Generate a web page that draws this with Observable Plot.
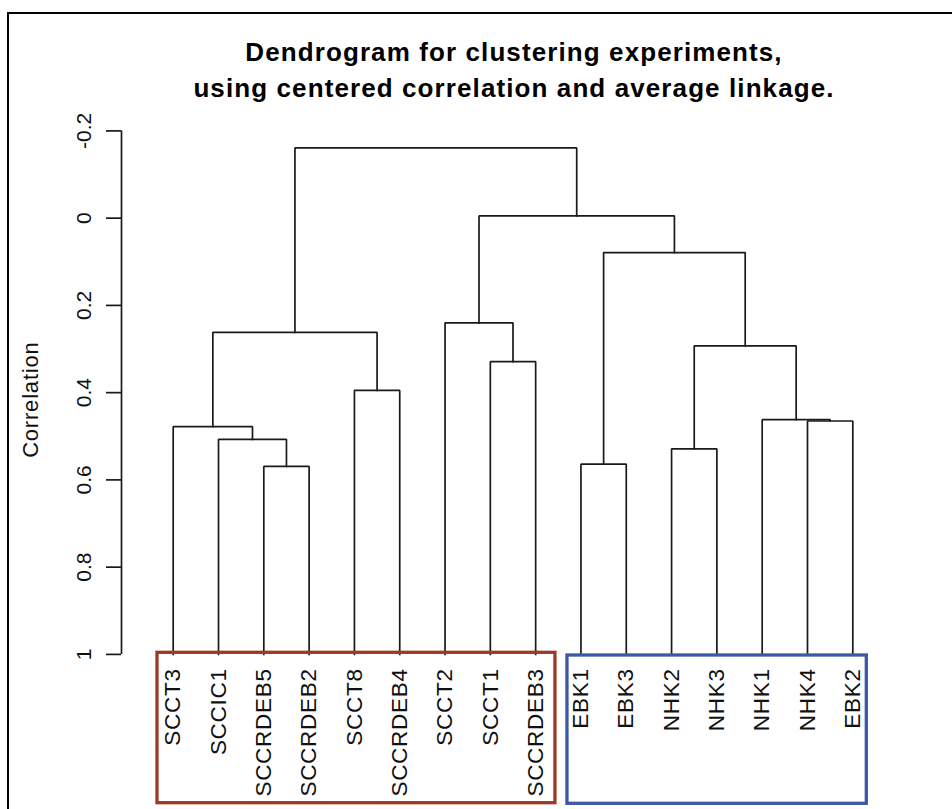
<!DOCTYPE html>
<html><head><meta charset="utf-8">
<script src="https://cdn.jsdelivr.net/npm/d3@7"></script>
<script src="https://cdn.jsdelivr.net/npm/@observablehq/plot@0.6"></script>
<style>
html,body{margin:0;padding:0;background:#fff;}
body{width:952px;height:809px;overflow:hidden;position:relative;font-family:"Liberation Sans",Arial,Helvetica,sans-serif;}
#border{position:absolute;left:7px;top:12px;right:-5px;bottom:-5px;border-left:2px solid #000;border-top:2px solid #000;}
#title{position:absolute;left:76px;top:34px;width:876px;text-align:center;font-weight:bold;font-size:26px;line-height:36px;letter-spacing:1.1px;color:#000;}
#chart{position:absolute;left:0;top:115px;}
#chart g[aria-label="x-axis tick label"] text{letter-spacing:0.7px;}
#chart g[aria-label="text"] text{letter-spacing:0.8px;}
</style></head><body>
<div id="border"></div>
<div id="title">Dendrogram for clustering experiments,<br>using centered correlation and average linkage.</div>
<div id="chart"></div>
<script>
// Leaf order (left to right)
const leaves = ["SCCT3","SCCIC1","SCCRDEB5","SCCRDEB2","SCCT8","SCCRDEB4","SCCT2","SCCT1","SCCRDEB3",
                "EBK1","EBK3","NHK2","NHK3","NHK1","NHK4","EBK2"];
// Merge steps m1..m15 (children: leaf name or earlier merge id), heights in correlation units
const mergeLeft  = ["SCCRDEB5","SCCIC1","SCCT3","SCCT8","m3","SCCT1","SCCT2","EBK1","NHK2","NHK4","NHK1","m9","m8","m7","m5"];
const mergeRight = ["SCCRDEB2","m1","m2","SCCRDEB4","m4","SCCRDEB3","m6","EBK3","NHK3","EBK2","m10","m11","m12","m13","m14"];
const mergeHeight = [0.569,0.507,0.478,0.395,0.262,0.329,0.240,0.564,0.529,0.465,0.462,0.293,0.079,-0.005,-0.161];
const leafHeight = 1;
// Y axis ticks
const yTicks = [-0.2,0,0.2,0.4,0.6,0.8,1];
const yTickLabels = ["-0.2","0","0.2","0.4","0.6","0.8","1"];
const yLabel = "Correlation";
// Highlighted clusters (first and last leaf)
const clusterFirst = ["SCCT3","EBK1"];
const clusterLast  = ["SCCRDEB3","EBK2"];

// Build dendrogram geometry (R-style: merge x = midpoint of its children)
const pos = new Map(), hgt = new Map();
leaves.forEach((name, i) => { pos.set(name, i + 1); hgt.set(name, leafHeight); });
const segs = [];
mergeHeight.forEach((h, k) => {
  const id = "m" + (k + 1), a = mergeLeft[k], b = mergeRight[k];
  const xa = pos.get(a), xb = pos.get(b);
  segs.push({id, x: xa, y: hgt.get(a)}, {id, x: xa, y: h}, {id, x: xb, y: h}, {id, x: xb, y: hgt.get(b)});
  pos.set(id, (xa + xb) / 2); hgt.set(id, h);
});
const clusters = clusterFirst.map((f, i) => ({x1: pos.get(f), x2: pos.get(clusterLast[i])}));

const xDomain = [-0.141, leaves.length];
const ink = "#1a1a1a";

const plot = Plot.plot({
  width: 952, height: 694,
  marginTop: 15.4, marginBottom: 155.1, marginLeft: 121, marginRight: 99.7,
  x: {type: "linear", domain: xDomain},
  y: {domain: [yTicks[0], yTicks[yTicks.length - 1]], reverse: true},
  style: {fontFamily: "'Liberation Sans', Arial, Helvetica, sans-serif", color: "#111", background: "transparent", overflow: "visible"},
  marks: [
    Plot.ruleX([xDomain[0]], {stroke: ink, strokeWidth: 1.7}),
    Plot.axisY(yTicks, {tickSize: 15, tickPadding: 16, tickRotate: -90, strokeWidth: 1.7, stroke: ink,
      tickFormat: d => yTickLabels[yTicks.indexOf(d)], fontSize: 21, label: null}),
    Plot.line(segs, {x: "x", y: "y", z: "id", stroke: ink, strokeWidth: 1.7, strokeLinejoin: "miter", strokeLinecap: "square"}),
    Plot.rect([clusters[0]], {x1: "x1", x2: "x2", y1: leafHeight, y2: leafHeight, fill: "none",
      stroke: "#9a3b26", strokeWidth: 3.3, insetLeft: -15.7, insetRight: -19.8, insetTop: -1.6, insetBottom: -148.8}),
    Plot.rect([clusters[1]], {x1: "x1", x2: "x2", y1: leafHeight, y2: leafHeight, fill: "none",
      stroke: "#3c58a8", strokeWidth: 3.3, insetLeft: -13.5, insetRight: -14, insetTop: 1.1, insetBottom: -149.4}),
    Plot.axisX(leaves.map((_, i) => i + 1), {tickSize: 0, tickPadding: 14, tickRotate: -90,
      tickFormat: d => leaves[d - 1], fontSize: 22.5, label: null}),
    Plot.text([yLabel], {frameAnchor: "left", textAnchor: "middle", lineAnchor: "middle", rotate: -90, dx: -91, dy: 7, fontSize: 22, text: d => d})
  ]
});
document.getElementById("chart").appendChild(plot);
</script>
</body></html>
